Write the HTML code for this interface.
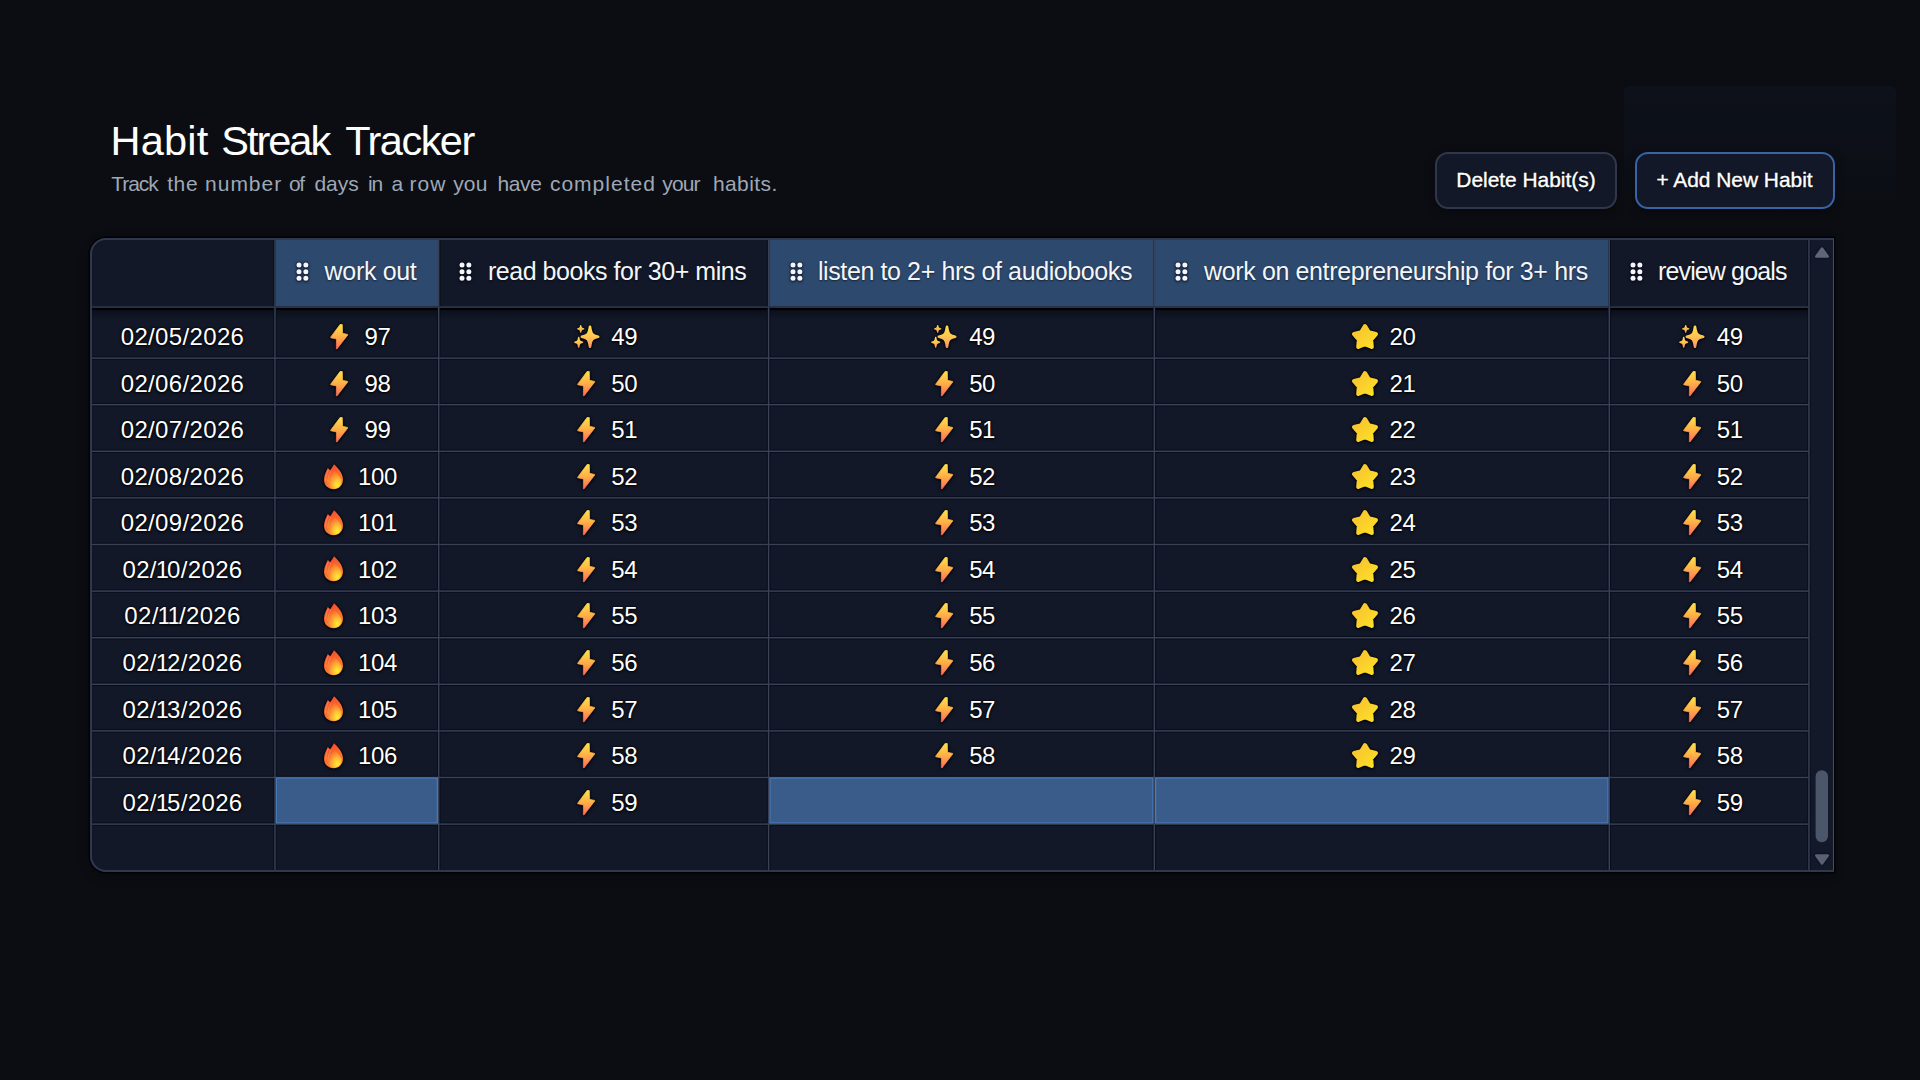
<!DOCTYPE html>
<html><head><meta charset="utf-8"><title>Habit Streak Tracker</title>
<style>
*{box-sizing:border-box}
html,body{margin:0;padding:0}
body{width:1920px;height:1080px;overflow:hidden;background:#0b0d12;color:#fff;font-family:"Liberation Sans",sans-serif;position:relative}
.glow{position:absolute;left:1624px;top:86px;width:272px;height:130px;border-radius:6px;background:linear-gradient(to bottom,rgba(30,50,92,.11),rgba(30,50,92,.07) 45%,rgba(30,50,92,0))}
.abs{position:absolute;white-space:nowrap}
h1 span,.sub span{position:absolute;top:0}
h1{position:absolute;margin:0;left:0;top:117px;font-size:41.5px;font-weight:400;line-height:48px;white-space:nowrap;letter-spacing:-.75px;color:#fff}
.sub{position:absolute;left:0;top:171px;font-size:21px;line-height:26px;color:#9ea8b6;white-space:nowrap;letter-spacing:.63px}
.btn{position:absolute;top:151.5px;height:57px;border-radius:13px;background:#121827;border:2px solid #31374a;font-size:20.9px;line-height:51px;text-align:center;color:#fff;text-shadow:0 1px 2px rgba(0,0,0,.9);box-shadow:0 3px 10px rgba(0,0,0,.35);-webkit-text-stroke:.35px #fff}
.wrap{position:absolute;left:90px;top:238px;width:1744.4px;height:634px;border-radius:16px 0 0 16px;background:#121828;box-shadow:0 4px 12px rgba(0,0,0,.3),0 0 0 1.5px rgba(0,0,0,.75);overflow:hidden}
.in{position:absolute;left:-90px;top:-238px;width:1920px;height:1080px}
.hd{position:absolute;top:239px;height:68px;background:#131929}
.hd.sel{background:#2d496e}
.ht{position:absolute;top:256px;font-size:25px;line-height:30px;color:#f4f6fa;white-space:nowrap;text-shadow:0 1px 2px rgba(0,0,0,.55)}
.hs{position:absolute;left:90px;top:308px;width:1719px;height:12px;background:linear-gradient(to bottom,rgba(0,0,2,1) 0,rgba(0,0,2,1) 1.8px,rgba(4,6,12,.45) 2.6px,rgba(6,8,16,0) 100%)}
.dt,.nm{position:absolute;font-size:24px;line-height:28px;color:#fff;white-space:nowrap;text-shadow:0 0 2px #000,0 1px 3px rgba(0,0,0,.95),0 0 1px #000}
.dt i{font-style:normal;margin:0 -2.4px 0 -1.2px}
.ic{position:absolute;overflow:visible;filter:drop-shadow(0 0 1px rgba(0,0,8,.95)) drop-shadow(0 1px 1.5px rgba(0,0,8,.8))}
.selc{position:absolute;background:#3a5c8b;border:1.3px solid #4474ae}
.sb{position:absolute;left:1809.3px;top:239px;width:24.7px;height:632px;background:#131929}
.bd{position:absolute;left:90px;top:238px;width:1744.4px;height:634px;border-radius:16px 0 0 16px;border:2px solid #30384e;border-right:1px solid #454d68;pointer-events:none}
</style></head><body>
<svg width="0" height="0" style="position:absolute"><defs>
<linearGradient id="gb" x1="0" y1="0" x2="0" y2="1"><stop offset="0" stop-color="#ffe04a"/><stop offset=".45" stop-color="#ffb446"/><stop offset="1" stop-color="#ff6b5a"/></linearGradient>
<linearGradient id="gs" x1="0" y1="0" x2="0" y2="1"><stop offset="0" stop-color="#ffde4a"/><stop offset=".5" stop-color="#ffc54f"/><stop offset="1" stop-color="#ff9668"/></linearGradient>
<linearGradient id="gf1" x1=".2" y1="0" x2=".6" y2="1"><stop offset="0" stop-color="#f4442e"/><stop offset=".5" stop-color="#f86a2d"/><stop offset="1" stop-color="#fb8a30"/></linearGradient>
<radialGradient id="gf2" cx=".7" cy=".8" r=".75"><stop offset="0" stop-color="#fff02e"/><stop offset=".4" stop-color="#ffbe37"/><stop offset="1" stop-color="#fa6a2c"/></radialGradient>
<linearGradient id="gst" x1="0" y1="0" x2="1" y2="1"><stop offset="0" stop-color="#f8c12e"/><stop offset=".5" stop-color="#fad02c"/><stop offset="1" stop-color="#ffe326"/></linearGradient>
</defs></svg>
<div class="glow"></div>
<h1><span style="left:110.52px;letter-spacing:0.191px">Habit</span><span style="left:221.28px;letter-spacing:-2.009px">Streak</span><span style="left:345.31px;letter-spacing:-1.528px">Tracker</span></h1>
<div class="sub"><span style="left:111.18px;letter-spacing:-1.015px">Track</span><span style="left:167.17px;letter-spacing:0.616px">the</span><span style="left:205.05px;letter-spacing:0.992px">number</span><span style="left:288.90px;letter-spacing:-1.300px">of</span><span style="left:314.45px;letter-spacing:-0.049px">days</span><span style="left:368.05px;letter-spacing:-1.300px">in</span><span style="left:391.48px;letter-spacing:0.000px">a</span><span style="left:409.39px;letter-spacing:1.129px">row</span><span style="left:453.13px;letter-spacing:0.206px">you</span><span style="left:497.62px;letter-spacing:-0.439px">have</span><span style="left:549.94px;letter-spacing:1.004px">completed</span><span style="left:662.30px;letter-spacing:-0.872px">your</span><span style="left:712.88px;letter-spacing:0.441px">habits.</span></div>
<div class="btn" style="left:1435px;width:182px">Delete Habit(s)</div>
<div class="btn" style="left:1634.5px;width:200px;border-color:#3863a6">+ Add New Habit</div>
<div class="wrap"><div class="in">

<div class="dt" style="left:90px;width:185px;text-align:center;top:323px;letter-spacing:.35px">02/05/2026</div>
<svg class="ic" style="left:330.46px;top:324px" width="18.4" height="25.6" viewBox="0 0 18.4 25.6"><path d="M10.2 .35L12.3 .5L12.6 9.3L17.7 10.4L17.8 11L7 25L6.3 24.8L6.5 15L.7 13.8L.6 13.2Z" fill="url(#gb)" stroke="url(#gb)" stroke-width=".7" stroke-linejoin="round"/></svg>
<div class="nm" style="left:364.56px;top:323px;letter-spacing:-.4px">97</div>
<svg class="ic" style="left:573.66px;top:324.6px" width="25.8" height="23.4" viewBox="0 0 25.8 23.4"><g fill="url(#gs)" stroke="url(#gs)" stroke-linejoin="round"><path stroke-width="2.6" d="M16 1.7C17.15 9.2 18.05 10.3 24.2 11.7C18.05 13.1 17.15 14.2 16 21.7C14.85 14.2 13.95 13.1 7.8 11.7C13.95 10.3 14.85 9.2 16 1.7Z"/><path stroke-width="1.3" d="M6.7 0.7C7.12 3.1 7.45 3.45 9.7 3.9C7.45 4.35 7.12 4.7 6.7 7.1C6.28 4.7 5.95 4.35 3.7 3.9C5.95 3.45 6.28 3.1 6.7 0.7Z"/><path stroke-width="1.5" d="M4.7 12.5C5.23 16.02 5.65 16.54 8.5 17.2C5.65 17.86 5.23 18.38 4.7 21.9C4.17 18.38 3.75 17.86 0.9 17.2C3.75 16.54 4.17 16.02 4.7 12.5Z"/></g></svg>
<div class="nm" style="left:611.36px;top:323px;letter-spacing:-.4px">49</div>
<svg class="ic" style="left:931.46px;top:324.6px" width="25.8" height="23.4" viewBox="0 0 25.8 23.4"><g fill="url(#gs)" stroke="url(#gs)" stroke-linejoin="round"><path stroke-width="2.6" d="M16 1.7C17.15 9.2 18.05 10.3 24.2 11.7C18.05 13.1 17.15 14.2 16 21.7C14.85 14.2 13.95 13.1 7.8 11.7C13.95 10.3 14.85 9.2 16 1.7Z"/><path stroke-width="1.3" d="M6.7 0.7C7.12 3.1 7.45 3.45 9.7 3.9C7.45 4.35 7.12 4.7 6.7 7.1C6.28 4.7 5.95 4.35 3.7 3.9C5.95 3.45 6.28 3.1 6.7 0.7Z"/><path stroke-width="1.5" d="M4.7 12.5C5.23 16.02 5.65 16.54 8.5 17.2C5.65 17.86 5.23 18.38 4.7 21.9C4.17 18.38 3.75 17.86 0.9 17.2C3.75 16.54 4.17 16.02 4.7 12.5Z"/></g></svg>
<div class="nm" style="left:969.16px;top:323px;letter-spacing:-.4px">49</div>
<svg class="ic" style="left:1352.11px;top:323.8px" width="26" height="25.6" viewBox="0 0 26 25.6"><path d="M13 2.2L16.76 8.42L23.84 10.08L19.09 15.58L19.7 22.82L13 20L6.3 22.82L6.91 15.58L2.16 10.08L9.24 8.42Z" fill="url(#gst)" stroke="url(#gst)" stroke-width="4.2" stroke-linejoin="round"/></svg>
<div class="nm" style="left:1389.51px;top:323px;letter-spacing:-.4px">20</div>
<svg class="ic" style="left:1679.13px;top:324.6px" width="25.8" height="23.4" viewBox="0 0 25.8 23.4"><g fill="url(#gs)" stroke="url(#gs)" stroke-linejoin="round"><path stroke-width="2.6" d="M16 1.7C17.15 9.2 18.05 10.3 24.2 11.7C18.05 13.1 17.15 14.2 16 21.7C14.85 14.2 13.95 13.1 7.8 11.7C13.95 10.3 14.85 9.2 16 1.7Z"/><path stroke-width="1.3" d="M6.7 0.7C7.12 3.1 7.45 3.45 9.7 3.9C7.45 4.35 7.12 4.7 6.7 7.1C6.28 4.7 5.95 4.35 3.7 3.9C5.95 3.45 6.28 3.1 6.7 0.7Z"/><path stroke-width="1.5" d="M4.7 12.5C5.23 16.02 5.65 16.54 8.5 17.2C5.65 17.86 5.23 18.38 4.7 21.9C4.17 18.38 3.75 17.86 0.9 17.2C3.75 16.54 4.17 16.02 4.7 12.5Z"/></g></svg>
<div class="nm" style="left:1716.83px;top:323px;letter-spacing:-.4px">49</div>
<div class="dt" style="left:90px;width:185px;text-align:center;top:370px;letter-spacing:.35px">02/06/2026</div>
<svg class="ic" style="left:330.46px;top:371.1px" width="18.4" height="25.6" viewBox="0 0 18.4 25.6"><path d="M10.2 .35L12.3 .5L12.6 9.3L17.7 10.4L17.8 11L7 25L6.3 24.8L6.5 15L.7 13.8L.6 13.2Z" fill="url(#gb)" stroke="url(#gb)" stroke-width=".7" stroke-linejoin="round"/></svg>
<div class="nm" style="left:364.56px;top:370px;letter-spacing:-.4px">98</div>
<svg class="ic" style="left:577.26px;top:371.1px" width="18.4" height="25.6" viewBox="0 0 18.4 25.6"><path d="M10.2 .35L12.3 .5L12.6 9.3L17.7 10.4L17.8 11L7 25L6.3 24.8L6.5 15L.7 13.8L.6 13.2Z" fill="url(#gb)" stroke="url(#gb)" stroke-width=".7" stroke-linejoin="round"/></svg>
<div class="nm" style="left:611.36px;top:370px;letter-spacing:-.4px">50</div>
<svg class="ic" style="left:935.06px;top:371.1px" width="18.4" height="25.6" viewBox="0 0 18.4 25.6"><path d="M10.2 .35L12.3 .5L12.6 9.3L17.7 10.4L17.8 11L7 25L6.3 24.8L6.5 15L.7 13.8L.6 13.2Z" fill="url(#gb)" stroke="url(#gb)" stroke-width=".7" stroke-linejoin="round"/></svg>
<div class="nm" style="left:969.16px;top:370px;letter-spacing:-.4px">50</div>
<svg class="ic" style="left:1352.11px;top:370.9px" width="26" height="25.6" viewBox="0 0 26 25.6"><path d="M13 2.2L16.76 8.42L23.84 10.08L19.09 15.58L19.7 22.82L13 20L6.3 22.82L6.91 15.58L2.16 10.08L9.24 8.42Z" fill="url(#gst)" stroke="url(#gst)" stroke-width="4.2" stroke-linejoin="round"/></svg>
<div class="nm" style="left:1389.51px;top:370px;letter-spacing:-.4px">21</div>
<svg class="ic" style="left:1682.73px;top:371.1px" width="18.4" height="25.6" viewBox="0 0 18.4 25.6"><path d="M10.2 .35L12.3 .5L12.6 9.3L17.7 10.4L17.8 11L7 25L6.3 24.8L6.5 15L.7 13.8L.6 13.2Z" fill="url(#gb)" stroke="url(#gb)" stroke-width=".7" stroke-linejoin="round"/></svg>
<div class="nm" style="left:1716.83px;top:370px;letter-spacing:-.4px">50</div>
<div class="dt" style="left:90px;width:185px;text-align:center;top:416px;letter-spacing:.35px">02/07/2026</div>
<svg class="ic" style="left:330.46px;top:416.8px" width="18.4" height="25.6" viewBox="0 0 18.4 25.6"><path d="M10.2 .35L12.3 .5L12.6 9.3L17.7 10.4L17.8 11L7 25L6.3 24.8L6.5 15L.7 13.8L.6 13.2Z" fill="url(#gb)" stroke="url(#gb)" stroke-width=".7" stroke-linejoin="round"/></svg>
<div class="nm" style="left:364.56px;top:416px;letter-spacing:-.4px">99</div>
<svg class="ic" style="left:577.26px;top:416.8px" width="18.4" height="25.6" viewBox="0 0 18.4 25.6"><path d="M10.2 .35L12.3 .5L12.6 9.3L17.7 10.4L17.8 11L7 25L6.3 24.8L6.5 15L.7 13.8L.6 13.2Z" fill="url(#gb)" stroke="url(#gb)" stroke-width=".7" stroke-linejoin="round"/></svg>
<div class="nm" style="left:611.36px;top:416px;letter-spacing:-.4px">51</div>
<svg class="ic" style="left:935.06px;top:416.8px" width="18.4" height="25.6" viewBox="0 0 18.4 25.6"><path d="M10.2 .35L12.3 .5L12.6 9.3L17.7 10.4L17.8 11L7 25L6.3 24.8L6.5 15L.7 13.8L.6 13.2Z" fill="url(#gb)" stroke="url(#gb)" stroke-width=".7" stroke-linejoin="round"/></svg>
<div class="nm" style="left:969.16px;top:416px;letter-spacing:-.4px">51</div>
<svg class="ic" style="left:1352.11px;top:416.6px" width="26" height="25.6" viewBox="0 0 26 25.6"><path d="M13 2.2L16.76 8.42L23.84 10.08L19.09 15.58L19.7 22.82L13 20L6.3 22.82L6.91 15.58L2.16 10.08L9.24 8.42Z" fill="url(#gst)" stroke="url(#gst)" stroke-width="4.2" stroke-linejoin="round"/></svg>
<div class="nm" style="left:1389.51px;top:416px;letter-spacing:-.4px">22</div>
<svg class="ic" style="left:1682.73px;top:416.8px" width="18.4" height="25.6" viewBox="0 0 18.4 25.6"><path d="M10.2 .35L12.3 .5L12.6 9.3L17.7 10.4L17.8 11L7 25L6.3 24.8L6.5 15L.7 13.8L.6 13.2Z" fill="url(#gb)" stroke="url(#gb)" stroke-width=".7" stroke-linejoin="round"/></svg>
<div class="nm" style="left:1716.83px;top:416px;letter-spacing:-.4px">51</div>
<div class="dt" style="left:90px;width:185px;text-align:center;top:463px;letter-spacing:.35px">02/08/2026</div>
<svg class="ic" style="left:323.89px;top:463.6px" width="19" height="25.4" viewBox="0 0 19.4 25.6"><path d="M10.3 0C13.5 3.2 19.4 8.6 19.4 15.6C19.4 21.4 15.4 25.6 9.9 25.6C4.2 25.6 0 21.6 0 16C0 11.2 2.4 7.4 3.8 4C4.6 4.6 5.6 5.4 6.3 6.2C7.6 4.2 9.2 2 10.3 0Z" fill="url(#gf1)"/><path d="M10.6 6.4C13.4 9.6 17.9 13.2 17.9 17.8C17.9 22 14.6 25.1 10.6 25.1C6.6 25.1 3.6 22 3.6 18C3.6 13.4 8.2 10.2 10.6 6.4Z" fill="url(#gf2)"/><path d="M4.2 6.2C3 9.4 1.6 12.4 1.7 16.4M6.9 7.6C5.4 10.6 3.9 13.6 3.8 17.8" fill="none" stroke="#ffb070" stroke-opacity=".55" stroke-width=".9" stroke-linecap="round"/></svg>
<div class="nm" style="left:358.09px;top:463px;letter-spacing:-.4px">100</div>
<svg class="ic" style="left:577.26px;top:464px" width="18.4" height="25.6" viewBox="0 0 18.4 25.6"><path d="M10.2 .35L12.3 .5L12.6 9.3L17.7 10.4L17.8 11L7 25L6.3 24.8L6.5 15L.7 13.8L.6 13.2Z" fill="url(#gb)" stroke="url(#gb)" stroke-width=".7" stroke-linejoin="round"/></svg>
<div class="nm" style="left:611.36px;top:463px;letter-spacing:-.4px">52</div>
<svg class="ic" style="left:935.06px;top:464px" width="18.4" height="25.6" viewBox="0 0 18.4 25.6"><path d="M10.2 .35L12.3 .5L12.6 9.3L17.7 10.4L17.8 11L7 25L6.3 24.8L6.5 15L.7 13.8L.6 13.2Z" fill="url(#gb)" stroke="url(#gb)" stroke-width=".7" stroke-linejoin="round"/></svg>
<div class="nm" style="left:969.16px;top:463px;letter-spacing:-.4px">52</div>
<svg class="ic" style="left:1352.11px;top:463.8px" width="26" height="25.6" viewBox="0 0 26 25.6"><path d="M13 2.2L16.76 8.42L23.84 10.08L19.09 15.58L19.7 22.82L13 20L6.3 22.82L6.91 15.58L2.16 10.08L9.24 8.42Z" fill="url(#gst)" stroke="url(#gst)" stroke-width="4.2" stroke-linejoin="round"/></svg>
<div class="nm" style="left:1389.51px;top:463px;letter-spacing:-.4px">23</div>
<svg class="ic" style="left:1682.73px;top:464px" width="18.4" height="25.6" viewBox="0 0 18.4 25.6"><path d="M10.2 .35L12.3 .5L12.6 9.3L17.7 10.4L17.8 11L7 25L6.3 24.8L6.5 15L.7 13.8L.6 13.2Z" fill="url(#gb)" stroke="url(#gb)" stroke-width=".7" stroke-linejoin="round"/></svg>
<div class="nm" style="left:1716.83px;top:463px;letter-spacing:-.4px">52</div>
<div class="dt" style="left:90px;width:185px;text-align:center;top:509px;letter-spacing:.35px">02/09/2026</div>
<svg class="ic" style="left:323.89px;top:509.8px" width="19" height="25.4" viewBox="0 0 19.4 25.6"><path d="M10.3 0C13.5 3.2 19.4 8.6 19.4 15.6C19.4 21.4 15.4 25.6 9.9 25.6C4.2 25.6 0 21.6 0 16C0 11.2 2.4 7.4 3.8 4C4.6 4.6 5.6 5.4 6.3 6.2C7.6 4.2 9.2 2 10.3 0Z" fill="url(#gf1)"/><path d="M10.6 6.4C13.4 9.6 17.9 13.2 17.9 17.8C17.9 22 14.6 25.1 10.6 25.1C6.6 25.1 3.6 22 3.6 18C3.6 13.4 8.2 10.2 10.6 6.4Z" fill="url(#gf2)"/><path d="M4.2 6.2C3 9.4 1.6 12.4 1.7 16.4M6.9 7.6C5.4 10.6 3.9 13.6 3.8 17.8" fill="none" stroke="#ffb070" stroke-opacity=".55" stroke-width=".9" stroke-linecap="round"/></svg>
<div class="nm" style="left:358.09px;top:509px;letter-spacing:-.4px">101</div>
<svg class="ic" style="left:577.26px;top:510.2px" width="18.4" height="25.6" viewBox="0 0 18.4 25.6"><path d="M10.2 .35L12.3 .5L12.6 9.3L17.7 10.4L17.8 11L7 25L6.3 24.8L6.5 15L.7 13.8L.6 13.2Z" fill="url(#gb)" stroke="url(#gb)" stroke-width=".7" stroke-linejoin="round"/></svg>
<div class="nm" style="left:611.36px;top:509px;letter-spacing:-.4px">53</div>
<svg class="ic" style="left:935.06px;top:510.2px" width="18.4" height="25.6" viewBox="0 0 18.4 25.6"><path d="M10.2 .35L12.3 .5L12.6 9.3L17.7 10.4L17.8 11L7 25L6.3 24.8L6.5 15L.7 13.8L.6 13.2Z" fill="url(#gb)" stroke="url(#gb)" stroke-width=".7" stroke-linejoin="round"/></svg>
<div class="nm" style="left:969.16px;top:509px;letter-spacing:-.4px">53</div>
<svg class="ic" style="left:1352.11px;top:510px" width="26" height="25.6" viewBox="0 0 26 25.6"><path d="M13 2.2L16.76 8.42L23.84 10.08L19.09 15.58L19.7 22.82L13 20L6.3 22.82L6.91 15.58L2.16 10.08L9.24 8.42Z" fill="url(#gst)" stroke="url(#gst)" stroke-width="4.2" stroke-linejoin="round"/></svg>
<div class="nm" style="left:1389.51px;top:509px;letter-spacing:-.4px">24</div>
<svg class="ic" style="left:1682.73px;top:510.2px" width="18.4" height="25.6" viewBox="0 0 18.4 25.6"><path d="M10.2 .35L12.3 .5L12.6 9.3L17.7 10.4L17.8 11L7 25L6.3 24.8L6.5 15L.7 13.8L.6 13.2Z" fill="url(#gb)" stroke="url(#gb)" stroke-width=".7" stroke-linejoin="round"/></svg>
<div class="nm" style="left:1716.83px;top:509px;letter-spacing:-.4px">53</div>
<div class="dt" style="left:90px;width:185px;text-align:center;top:556px;letter-spacing:.35px">02/<i>1</i>0/2026</div>
<svg class="ic" style="left:323.89px;top:556.4px" width="19" height="25.4" viewBox="0 0 19.4 25.6"><path d="M10.3 0C13.5 3.2 19.4 8.6 19.4 15.6C19.4 21.4 15.4 25.6 9.9 25.6C4.2 25.6 0 21.6 0 16C0 11.2 2.4 7.4 3.8 4C4.6 4.6 5.6 5.4 6.3 6.2C7.6 4.2 9.2 2 10.3 0Z" fill="url(#gf1)"/><path d="M10.6 6.4C13.4 9.6 17.9 13.2 17.9 17.8C17.9 22 14.6 25.1 10.6 25.1C6.6 25.1 3.6 22 3.6 18C3.6 13.4 8.2 10.2 10.6 6.4Z" fill="url(#gf2)"/><path d="M4.2 6.2C3 9.4 1.6 12.4 1.7 16.4M6.9 7.6C5.4 10.6 3.9 13.6 3.8 17.8" fill="none" stroke="#ffb070" stroke-opacity=".55" stroke-width=".9" stroke-linecap="round"/></svg>
<div class="nm" style="left:358.09px;top:556px;letter-spacing:-.4px">102</div>
<svg class="ic" style="left:577.26px;top:556.8px" width="18.4" height="25.6" viewBox="0 0 18.4 25.6"><path d="M10.2 .35L12.3 .5L12.6 9.3L17.7 10.4L17.8 11L7 25L6.3 24.8L6.5 15L.7 13.8L.6 13.2Z" fill="url(#gb)" stroke="url(#gb)" stroke-width=".7" stroke-linejoin="round"/></svg>
<div class="nm" style="left:611.36px;top:556px;letter-spacing:-.4px">54</div>
<svg class="ic" style="left:935.06px;top:556.8px" width="18.4" height="25.6" viewBox="0 0 18.4 25.6"><path d="M10.2 .35L12.3 .5L12.6 9.3L17.7 10.4L17.8 11L7 25L6.3 24.8L6.5 15L.7 13.8L.6 13.2Z" fill="url(#gb)" stroke="url(#gb)" stroke-width=".7" stroke-linejoin="round"/></svg>
<div class="nm" style="left:969.16px;top:556px;letter-spacing:-.4px">54</div>
<svg class="ic" style="left:1352.11px;top:556.6px" width="26" height="25.6" viewBox="0 0 26 25.6"><path d="M13 2.2L16.76 8.42L23.84 10.08L19.09 15.58L19.7 22.82L13 20L6.3 22.82L6.91 15.58L2.16 10.08L9.24 8.42Z" fill="url(#gst)" stroke="url(#gst)" stroke-width="4.2" stroke-linejoin="round"/></svg>
<div class="nm" style="left:1389.51px;top:556px;letter-spacing:-.4px">25</div>
<svg class="ic" style="left:1682.73px;top:556.8px" width="18.4" height="25.6" viewBox="0 0 18.4 25.6"><path d="M10.2 .35L12.3 .5L12.6 9.3L17.7 10.4L17.8 11L7 25L6.3 24.8L6.5 15L.7 13.8L.6 13.2Z" fill="url(#gb)" stroke="url(#gb)" stroke-width=".7" stroke-linejoin="round"/></svg>
<div class="nm" style="left:1716.83px;top:556px;letter-spacing:-.4px">54</div>
<div class="dt" style="left:90px;width:185px;text-align:center;top:602px;letter-spacing:.35px">02/<i>1</i><i>1</i>/2026</div>
<svg class="ic" style="left:323.89px;top:602.7px" width="19" height="25.4" viewBox="0 0 19.4 25.6"><path d="M10.3 0C13.5 3.2 19.4 8.6 19.4 15.6C19.4 21.4 15.4 25.6 9.9 25.6C4.2 25.6 0 21.6 0 16C0 11.2 2.4 7.4 3.8 4C4.6 4.6 5.6 5.4 6.3 6.2C7.6 4.2 9.2 2 10.3 0Z" fill="url(#gf1)"/><path d="M10.6 6.4C13.4 9.6 17.9 13.2 17.9 17.8C17.9 22 14.6 25.1 10.6 25.1C6.6 25.1 3.6 22 3.6 18C3.6 13.4 8.2 10.2 10.6 6.4Z" fill="url(#gf2)"/><path d="M4.2 6.2C3 9.4 1.6 12.4 1.7 16.4M6.9 7.6C5.4 10.6 3.9 13.6 3.8 17.8" fill="none" stroke="#ffb070" stroke-opacity=".55" stroke-width=".9" stroke-linecap="round"/></svg>
<div class="nm" style="left:358.09px;top:602px;letter-spacing:-.4px">103</div>
<svg class="ic" style="left:577.26px;top:603.1px" width="18.4" height="25.6" viewBox="0 0 18.4 25.6"><path d="M10.2 .35L12.3 .5L12.6 9.3L17.7 10.4L17.8 11L7 25L6.3 24.8L6.5 15L.7 13.8L.6 13.2Z" fill="url(#gb)" stroke="url(#gb)" stroke-width=".7" stroke-linejoin="round"/></svg>
<div class="nm" style="left:611.36px;top:602px;letter-spacing:-.4px">55</div>
<svg class="ic" style="left:935.06px;top:603.1px" width="18.4" height="25.6" viewBox="0 0 18.4 25.6"><path d="M10.2 .35L12.3 .5L12.6 9.3L17.7 10.4L17.8 11L7 25L6.3 24.8L6.5 15L.7 13.8L.6 13.2Z" fill="url(#gb)" stroke="url(#gb)" stroke-width=".7" stroke-linejoin="round"/></svg>
<div class="nm" style="left:969.16px;top:602px;letter-spacing:-.4px">55</div>
<svg class="ic" style="left:1352.11px;top:602.9px" width="26" height="25.6" viewBox="0 0 26 25.6"><path d="M13 2.2L16.76 8.42L23.84 10.08L19.09 15.58L19.7 22.82L13 20L6.3 22.82L6.91 15.58L2.16 10.08L9.24 8.42Z" fill="url(#gst)" stroke="url(#gst)" stroke-width="4.2" stroke-linejoin="round"/></svg>
<div class="nm" style="left:1389.51px;top:602px;letter-spacing:-.4px">26</div>
<svg class="ic" style="left:1682.73px;top:603.1px" width="18.4" height="25.6" viewBox="0 0 18.4 25.6"><path d="M10.2 .35L12.3 .5L12.6 9.3L17.7 10.4L17.8 11L7 25L6.3 24.8L6.5 15L.7 13.8L.6 13.2Z" fill="url(#gb)" stroke="url(#gb)" stroke-width=".7" stroke-linejoin="round"/></svg>
<div class="nm" style="left:1716.83px;top:602px;letter-spacing:-.4px">55</div>
<div class="dt" style="left:90px;width:185px;text-align:center;top:649px;letter-spacing:.35px">02/<i>1</i>2/2026</div>
<svg class="ic" style="left:323.89px;top:649.8px" width="19" height="25.4" viewBox="0 0 19.4 25.6"><path d="M10.3 0C13.5 3.2 19.4 8.6 19.4 15.6C19.4 21.4 15.4 25.6 9.9 25.6C4.2 25.6 0 21.6 0 16C0 11.2 2.4 7.4 3.8 4C4.6 4.6 5.6 5.4 6.3 6.2C7.6 4.2 9.2 2 10.3 0Z" fill="url(#gf1)"/><path d="M10.6 6.4C13.4 9.6 17.9 13.2 17.9 17.8C17.9 22 14.6 25.1 10.6 25.1C6.6 25.1 3.6 22 3.6 18C3.6 13.4 8.2 10.2 10.6 6.4Z" fill="url(#gf2)"/><path d="M4.2 6.2C3 9.4 1.6 12.4 1.7 16.4M6.9 7.6C5.4 10.6 3.9 13.6 3.8 17.8" fill="none" stroke="#ffb070" stroke-opacity=".55" stroke-width=".9" stroke-linecap="round"/></svg>
<div class="nm" style="left:358.09px;top:649px;letter-spacing:-.4px">104</div>
<svg class="ic" style="left:577.26px;top:650.2px" width="18.4" height="25.6" viewBox="0 0 18.4 25.6"><path d="M10.2 .35L12.3 .5L12.6 9.3L17.7 10.4L17.8 11L7 25L6.3 24.8L6.5 15L.7 13.8L.6 13.2Z" fill="url(#gb)" stroke="url(#gb)" stroke-width=".7" stroke-linejoin="round"/></svg>
<div class="nm" style="left:611.36px;top:649px;letter-spacing:-.4px">56</div>
<svg class="ic" style="left:935.06px;top:650.2px" width="18.4" height="25.6" viewBox="0 0 18.4 25.6"><path d="M10.2 .35L12.3 .5L12.6 9.3L17.7 10.4L17.8 11L7 25L6.3 24.8L6.5 15L.7 13.8L.6 13.2Z" fill="url(#gb)" stroke="url(#gb)" stroke-width=".7" stroke-linejoin="round"/></svg>
<div class="nm" style="left:969.16px;top:649px;letter-spacing:-.4px">56</div>
<svg class="ic" style="left:1352.11px;top:650px" width="26" height="25.6" viewBox="0 0 26 25.6"><path d="M13 2.2L16.76 8.42L23.84 10.08L19.09 15.58L19.7 22.82L13 20L6.3 22.82L6.91 15.58L2.16 10.08L9.24 8.42Z" fill="url(#gst)" stroke="url(#gst)" stroke-width="4.2" stroke-linejoin="round"/></svg>
<div class="nm" style="left:1389.51px;top:649px;letter-spacing:-.4px">27</div>
<svg class="ic" style="left:1682.73px;top:650.2px" width="18.4" height="25.6" viewBox="0 0 18.4 25.6"><path d="M10.2 .35L12.3 .5L12.6 9.3L17.7 10.4L17.8 11L7 25L6.3 24.8L6.5 15L.7 13.8L.6 13.2Z" fill="url(#gb)" stroke="url(#gb)" stroke-width=".7" stroke-linejoin="round"/></svg>
<div class="nm" style="left:1716.83px;top:649px;letter-spacing:-.4px">56</div>
<div class="dt" style="left:90px;width:185px;text-align:center;top:696px;letter-spacing:.35px">02/<i>1</i>3/2026</div>
<svg class="ic" style="left:323.89px;top:696.4px" width="19" height="25.4" viewBox="0 0 19.4 25.6"><path d="M10.3 0C13.5 3.2 19.4 8.6 19.4 15.6C19.4 21.4 15.4 25.6 9.9 25.6C4.2 25.6 0 21.6 0 16C0 11.2 2.4 7.4 3.8 4C4.6 4.6 5.6 5.4 6.3 6.2C7.6 4.2 9.2 2 10.3 0Z" fill="url(#gf1)"/><path d="M10.6 6.4C13.4 9.6 17.9 13.2 17.9 17.8C17.9 22 14.6 25.1 10.6 25.1C6.6 25.1 3.6 22 3.6 18C3.6 13.4 8.2 10.2 10.6 6.4Z" fill="url(#gf2)"/><path d="M4.2 6.2C3 9.4 1.6 12.4 1.7 16.4M6.9 7.6C5.4 10.6 3.9 13.6 3.8 17.8" fill="none" stroke="#ffb070" stroke-opacity=".55" stroke-width=".9" stroke-linecap="round"/></svg>
<div class="nm" style="left:358.09px;top:696px;letter-spacing:-.4px">105</div>
<svg class="ic" style="left:577.26px;top:696.8px" width="18.4" height="25.6" viewBox="0 0 18.4 25.6"><path d="M10.2 .35L12.3 .5L12.6 9.3L17.7 10.4L17.8 11L7 25L6.3 24.8L6.5 15L.7 13.8L.6 13.2Z" fill="url(#gb)" stroke="url(#gb)" stroke-width=".7" stroke-linejoin="round"/></svg>
<div class="nm" style="left:611.36px;top:696px;letter-spacing:-.4px">57</div>
<svg class="ic" style="left:935.06px;top:696.8px" width="18.4" height="25.6" viewBox="0 0 18.4 25.6"><path d="M10.2 .35L12.3 .5L12.6 9.3L17.7 10.4L17.8 11L7 25L6.3 24.8L6.5 15L.7 13.8L.6 13.2Z" fill="url(#gb)" stroke="url(#gb)" stroke-width=".7" stroke-linejoin="round"/></svg>
<div class="nm" style="left:969.16px;top:696px;letter-spacing:-.4px">57</div>
<svg class="ic" style="left:1352.11px;top:696.6px" width="26" height="25.6" viewBox="0 0 26 25.6"><path d="M13 2.2L16.76 8.42L23.84 10.08L19.09 15.58L19.7 22.82L13 20L6.3 22.82L6.91 15.58L2.16 10.08L9.24 8.42Z" fill="url(#gst)" stroke="url(#gst)" stroke-width="4.2" stroke-linejoin="round"/></svg>
<div class="nm" style="left:1389.51px;top:696px;letter-spacing:-.4px">28</div>
<svg class="ic" style="left:1682.73px;top:696.8px" width="18.4" height="25.6" viewBox="0 0 18.4 25.6"><path d="M10.2 .35L12.3 .5L12.6 9.3L17.7 10.4L17.8 11L7 25L6.3 24.8L6.5 15L.7 13.8L.6 13.2Z" fill="url(#gb)" stroke="url(#gb)" stroke-width=".7" stroke-linejoin="round"/></svg>
<div class="nm" style="left:1716.83px;top:696px;letter-spacing:-.4px">57</div>
<div class="dt" style="left:90px;width:185px;text-align:center;top:742px;letter-spacing:.35px">02/<i>1</i>4/2026</div>
<svg class="ic" style="left:323.89px;top:742.7px" width="19" height="25.4" viewBox="0 0 19.4 25.6"><path d="M10.3 0C13.5 3.2 19.4 8.6 19.4 15.6C19.4 21.4 15.4 25.6 9.9 25.6C4.2 25.6 0 21.6 0 16C0 11.2 2.4 7.4 3.8 4C4.6 4.6 5.6 5.4 6.3 6.2C7.6 4.2 9.2 2 10.3 0Z" fill="url(#gf1)"/><path d="M10.6 6.4C13.4 9.6 17.9 13.2 17.9 17.8C17.9 22 14.6 25.1 10.6 25.1C6.6 25.1 3.6 22 3.6 18C3.6 13.4 8.2 10.2 10.6 6.4Z" fill="url(#gf2)"/><path d="M4.2 6.2C3 9.4 1.6 12.4 1.7 16.4M6.9 7.6C5.4 10.6 3.9 13.6 3.8 17.8" fill="none" stroke="#ffb070" stroke-opacity=".55" stroke-width=".9" stroke-linecap="round"/></svg>
<div class="nm" style="left:358.09px;top:742px;letter-spacing:-.4px">106</div>
<svg class="ic" style="left:577.26px;top:743.1px" width="18.4" height="25.6" viewBox="0 0 18.4 25.6"><path d="M10.2 .35L12.3 .5L12.6 9.3L17.7 10.4L17.8 11L7 25L6.3 24.8L6.5 15L.7 13.8L.6 13.2Z" fill="url(#gb)" stroke="url(#gb)" stroke-width=".7" stroke-linejoin="round"/></svg>
<div class="nm" style="left:611.36px;top:742px;letter-spacing:-.4px">58</div>
<svg class="ic" style="left:935.06px;top:743.1px" width="18.4" height="25.6" viewBox="0 0 18.4 25.6"><path d="M10.2 .35L12.3 .5L12.6 9.3L17.7 10.4L17.8 11L7 25L6.3 24.8L6.5 15L.7 13.8L.6 13.2Z" fill="url(#gb)" stroke="url(#gb)" stroke-width=".7" stroke-linejoin="round"/></svg>
<div class="nm" style="left:969.16px;top:742px;letter-spacing:-.4px">58</div>
<svg class="ic" style="left:1352.11px;top:742.9px" width="26" height="25.6" viewBox="0 0 26 25.6"><path d="M13 2.2L16.76 8.42L23.84 10.08L19.09 15.58L19.7 22.82L13 20L6.3 22.82L6.91 15.58L2.16 10.08L9.24 8.42Z" fill="url(#gst)" stroke="url(#gst)" stroke-width="4.2" stroke-linejoin="round"/></svg>
<div class="nm" style="left:1389.51px;top:742px;letter-spacing:-.4px">29</div>
<svg class="ic" style="left:1682.73px;top:743.1px" width="18.4" height="25.6" viewBox="0 0 18.4 25.6"><path d="M10.2 .35L12.3 .5L12.6 9.3L17.7 10.4L17.8 11L7 25L6.3 24.8L6.5 15L.7 13.8L.6 13.2Z" fill="url(#gb)" stroke="url(#gb)" stroke-width=".7" stroke-linejoin="round"/></svg>
<div class="nm" style="left:1716.83px;top:742px;letter-spacing:-.4px">58</div>
<div class="dt" style="left:90px;width:185px;text-align:center;top:789px;letter-spacing:.35px">02/<i>1</i>5/2026</div>
<svg class="ic" style="left:577.26px;top:790.2px" width="18.4" height="25.6" viewBox="0 0 18.4 25.6"><path d="M10.2 .35L12.3 .5L12.6 9.3L17.7 10.4L17.8 11L7 25L6.3 24.8L6.5 15L.7 13.8L.6 13.2Z" fill="url(#gb)" stroke="url(#gb)" stroke-width=".7" stroke-linejoin="round"/></svg>
<div class="nm" style="left:611.36px;top:789px;letter-spacing:-.4px">59</div>
<svg class="ic" style="left:1682.73px;top:790.2px" width="18.4" height="25.6" viewBox="0 0 18.4 25.6"><path d="M10.2 .35L12.3 .5L12.6 9.3L17.7 10.4L17.8 11L7 25L6.3 24.8L6.5 15L.7 13.8L.6 13.2Z" fill="url(#gb)" stroke="url(#gb)" stroke-width=".7" stroke-linejoin="round"/></svg>
<div class="nm" style="left:1716.83px;top:789px;letter-spacing:-.4px">59</div>
<div class="hs"></div>
<div class="sb"></div>
<svg class="abs" style="left:0;top:0" width="1920" height="1080" viewBox="0 0 1920 1080"><g fill="rgb(6,11,27)" fill-opacity=".8"><rect x="90" y="356.38" width="1718.95" height="3.45"/><rect x="90" y="402.97" width="1718.95" height="3.45"/><rect x="90" y="449.57" width="1718.95" height="3.45"/><rect x="90" y="496.17" width="1718.95" height="3.45"/><rect x="90" y="542.77" width="1718.95" height="3.45"/><rect x="90" y="589.38" width="1718.95" height="3.45"/><rect x="90" y="635.98" width="1718.95" height="3.45"/><rect x="90" y="682.57" width="1718.95" height="3.45"/><rect x="90" y="729.18" width="1718.95" height="3.45"/><rect x="90" y="775.77" width="1718.95" height="3.45"/><rect x="90" y="822.38" width="1718.95" height="3.45"/><rect x="273.27" y="239" width="3.45" height="632"/><rect x="436.97" y="239" width="3.45" height="632"/><rect x="766.88" y="239" width="3.45" height="632"/><rect x="1152.58" y="239" width="3.45" height="632"/><rect x="1607.58" y="239" width="3.45" height="632"/><rect x="1807.23" y="239" width="3.45" height="632"/></g><g fill="#2d496e"><rect x="275.73" y="239.6" width="162.25" height="66.7"/><rect x="769.33" y="239.6" width="384.25" height="66.7"/><rect x="1155.02" y="239.6" width="453.55" height="66.7"/></g><g fill="#394155"><rect x="90" y="357.38" width="1718.95" height="1.45"/><rect x="90" y="403.97" width="1718.95" height="1.45"/><rect x="90" y="450.57" width="1718.95" height="1.45"/><rect x="90" y="497.17" width="1718.95" height="1.45"/><rect x="90" y="543.77" width="1718.95" height="1.45"/><rect x="90" y="590.38" width="1718.95" height="1.45"/><rect x="90" y="636.98" width="1718.95" height="1.45"/><rect x="90" y="683.57" width="1718.95" height="1.45"/><rect x="90" y="730.18" width="1718.95" height="1.45"/><rect x="90" y="776.77" width="1718.95" height="1.45"/><rect x="90" y="823.38" width="1718.95" height="1.45"/><rect x="274.27" y="239" width="1.45" height="632"/><rect x="437.97" y="239" width="1.45" height="632"/><rect x="767.88" y="239" width="1.45" height="632"/><rect x="1153.58" y="239" width="1.45" height="632"/><rect x="1608.58" y="239" width="1.45" height="632"/><rect x="1808.23" y="239" width="1.45" height="632"/><rect x="90" y="306.3" width="1718.95" height="1.6" fill="#2d354b"/></g><rect x="275.7" y="777.3" width="162.3" height="46.3" fill="#4778b6"/><rect x="277" y="778.6" width="159.7" height="43.7" fill="#3a5c8b"/><rect x="769.3" y="777.3" width="384.3" height="46.3" fill="#4778b6"/><rect x="770.6" y="778.6" width="381.7" height="43.7" fill="#3a5c8b"/><rect x="1155" y="777.3" width="453.6" height="46.3" fill="#4778b6"/><rect x="1156.3" y="778.6" width="451" height="43.7" fill="#3a5c8b"/></svg>
<svg class="abs" style="left:296.3px;top:262.1px;filter:drop-shadow(0 0 .8px rgba(0,0,30,.9)) drop-shadow(0 1px 1px rgba(0,0,20,.5))" width="13" height="20" viewBox="0 0 13 20" fill="#f4f6fa"><circle cx="3" cy="3" r="2.5"/><circle cx="3" cy="9.65" r="2.5"/><circle cx="3" cy="16.3" r="2.5"/><circle cx="9.85" cy="3" r="2.5"/><circle cx="9.85" cy="9.65" r="2.5"/><circle cx="9.85" cy="16.3" r="2.5"/></svg>
<div class="ht" style="left:324.58px;letter-spacing:-0.320px">work out</div>
<svg class="abs" style="left:459.3px;top:262.1px;filter:drop-shadow(0 0 .8px rgba(0,0,30,.9)) drop-shadow(0 1px 1px rgba(0,0,20,.5))" width="13" height="20" viewBox="0 0 13 20" fill="#f4f6fa"><circle cx="3" cy="3" r="2.5"/><circle cx="3" cy="9.65" r="2.5"/><circle cx="3" cy="16.3" r="2.5"/><circle cx="9.85" cy="3" r="2.5"/><circle cx="9.85" cy="9.65" r="2.5"/><circle cx="9.85" cy="16.3" r="2.5"/></svg>
<div class="ht" style="left:487.89px;letter-spacing:-0.456px">read books for 30+ mins</div>
<svg class="abs" style="left:790.1px;top:262.1px;filter:drop-shadow(0 0 .8px rgba(0,0,30,.9)) drop-shadow(0 1px 1px rgba(0,0,20,.5))" width="13" height="20" viewBox="0 0 13 20" fill="#f4f6fa"><circle cx="3" cy="3" r="2.5"/><circle cx="3" cy="9.65" r="2.5"/><circle cx="3" cy="16.3" r="2.5"/><circle cx="9.85" cy="3" r="2.5"/><circle cx="9.85" cy="9.65" r="2.5"/><circle cx="9.85" cy="16.3" r="2.5"/></svg>
<div class="ht" style="left:817.95px;letter-spacing:-0.392px">listen to 2+ hrs of audiobooks</div>
<svg class="abs" style="left:1175.3px;top:262.1px;filter:drop-shadow(0 0 .8px rgba(0,0,30,.9)) drop-shadow(0 1px 1px rgba(0,0,20,.5))" width="13" height="20" viewBox="0 0 13 20" fill="#f4f6fa"><circle cx="3" cy="3" r="2.5"/><circle cx="3" cy="9.65" r="2.5"/><circle cx="3" cy="16.3" r="2.5"/><circle cx="9.85" cy="3" r="2.5"/><circle cx="9.85" cy="9.65" r="2.5"/><circle cx="9.85" cy="16.3" r="2.5"/></svg>
<div class="ht" style="left:1204.06px;letter-spacing:-0.372px">work on entrepreneurship for 3+ hrs</div>
<svg class="abs" style="left:1630.1px;top:262.1px;filter:drop-shadow(0 0 .8px rgba(0,0,30,.9)) drop-shadow(0 1px 1px rgba(0,0,20,.5))" width="13" height="20" viewBox="0 0 13 20" fill="#f4f6fa"><circle cx="3" cy="3" r="2.5"/><circle cx="3" cy="9.65" r="2.5"/><circle cx="3" cy="16.3" r="2.5"/><circle cx="9.85" cy="3" r="2.5"/><circle cx="9.85" cy="9.65" r="2.5"/><circle cx="9.85" cy="16.3" r="2.5"/></svg>
<div class="ht" style="left:1658.06px;letter-spacing:-0.874px">review goals</div>
<svg class="abs" style="left:1812.9px;top:245.8px;filter:drop-shadow(0 0 1px rgba(2,6,20,.9))" width="18" height="13" viewBox="0 0 18 13"><path d="M9 2.6L14.7 10.4L3.3 10.4Z" fill="#5e677a" stroke="#5e677a" stroke-width="2.6" stroke-linejoin="round"/></svg>
<svg class="abs" style="left:1812.9px;top:852.6px;filter:drop-shadow(0 0 1px rgba(2,6,20,.9))" width="18" height="13" viewBox="0 0 18 13"><path d="M9 10.4L14.7 2.6L3.3 2.6Z" fill="#586174" stroke="#586174" stroke-width="2.6" stroke-linejoin="round"/></svg>
<svg class="abs" style="left:0;top:0" width="1920" height="1080"><rect x="1815.6" y="770.3" width="12.4" height="72" rx="6.2" fill="#4c566a"/></svg>
</div></div>
<div class="bd"></div>
</body></html>
